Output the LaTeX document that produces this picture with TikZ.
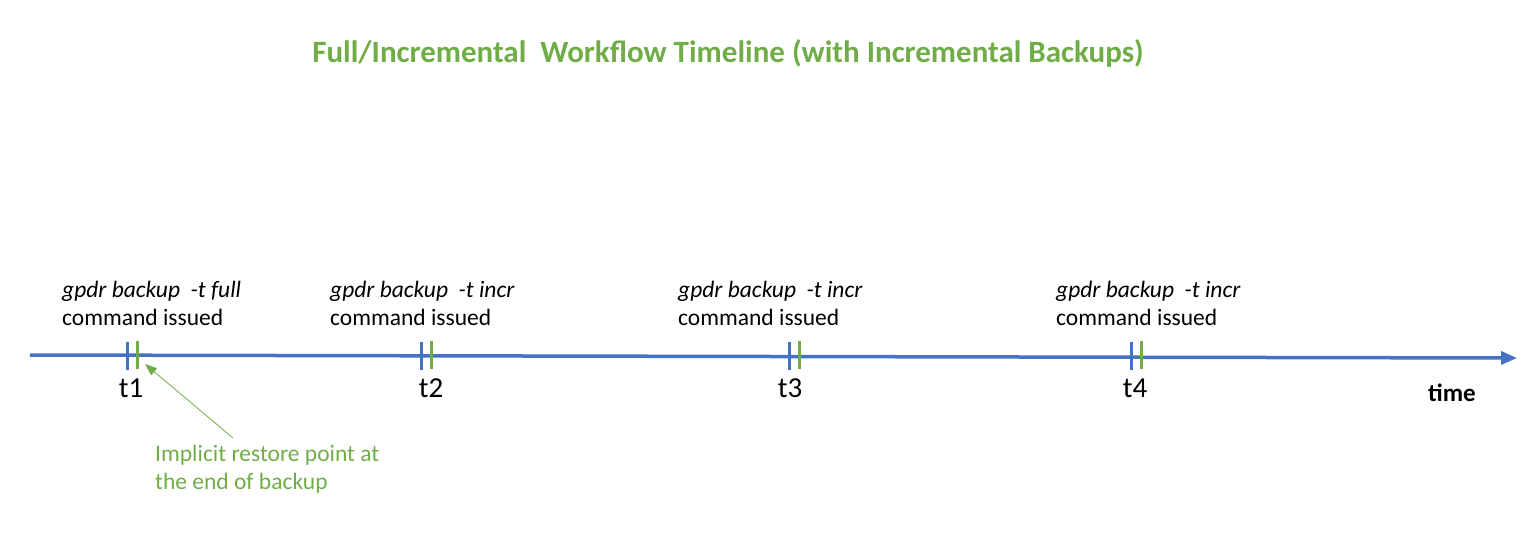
\documentclass[tikz,border=0pt]{standalone}
\usepackage{fontspec}
\setmainfont{Carlito}
\usetikzlibrary{arrows.meta}
\definecolor{axisblue}{HTML}{4472C4}
\definecolor{markgreen}{HTML}{70AD47}
\tikzset{
  axisline/.style={draw=axisblue, line width=3.5pt, -{Triangle[length=16pt,width=13pt]}},
  starttick/.style={draw=axisblue, line width=3pt},
  endtick/.style={draw=markgreen, line width=3pt},
  cmdtext/.style={anchor=base west, align=left, inner sep=0pt, font=\fontsize{23.5}{28}\selectfont},
  tlabel/.style={anchor=base, inner sep=0pt, font=\fontsize{29}{32}\selectfont},
}
\begin{document}
\begin{tikzpicture}[x=1pt,y=-1pt]
\useasboundingbox (0,0) rectangle (1536,554);

\node[anchor=base, inner sep=0pt, text=markgreen, font=\fontsize{31}{34}\bfseries] (title) at (728,62) {Full/Incremental\ \ Workflow Timeline (with Incremental Backups)};

\coordinate (start) at (30,355);
\coordinate (end) at (1517,358);
\draw[axisline] (start) -- (end);

\foreach \n/\x/\lx in {1/127/131, 2/421/431, 3/789/790, 4/1131/1135}{
	\draw[starttick] (\x,342) -- (\x,370);
	\draw[endtick] (\x+10,341) coordinate (e\n) -- (\x+10,369);
	\node[tlabel] (t\n) at (\lx,397) {t\n};
}

\node[cmdtext] (cmd1) at (62,325) {\textit{gpdr backup\ \ -t full}\\command issued};
\node[cmdtext] (cmd2) at (330,325) {\textit{gpdr backup\ \ -t incr}\\command issued};
\node[cmdtext] (cmd3) at (678,325) {\textit{gpdr backup\ \ -t incr}\\command issued};
\node[cmdtext] (cmd4) at (1056,325) {\textit{gpdr backup\ \ -t incr}\\command issued};

\node[anchor=base, inner sep=0pt, font=\fontsize{25}{28}\bfseries] (time) at (1452,401) {time};

\node[cmdtext, text=markgreen] (restore) at (155,489) {Implicit restore point at\\the end of backup};
\coordinate (tip) at (145,364);
\draw[markgreen, line width=0.8pt, -{Triangle[length=12pt,width=9pt]}] (233,438) -- (tip);
\end{tikzpicture}
\end{document}
